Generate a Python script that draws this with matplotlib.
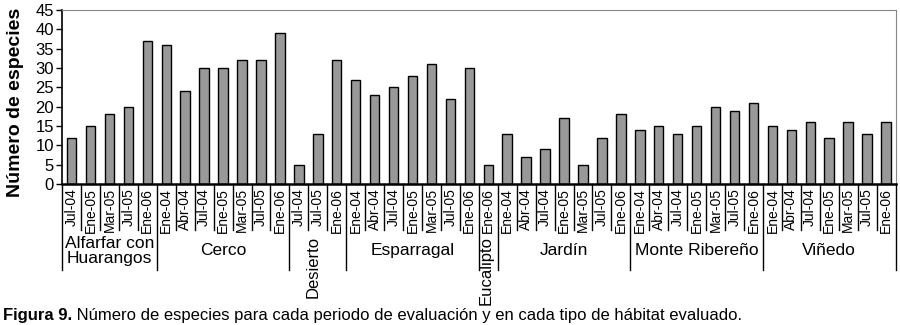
import matplotlib
matplotlib.use("Agg")
import matplotlib.pyplot as plt

plt.rcParams['font.family'] = ['Liberation Sans', 'DejaVu Sans']

# Habitat groups and their sampling periods
groups = ["Alfarfar con\nHuarangos", "Cerco", "Desierto", "Esparragal",
          "Eucalipto", "Jardín", "Monte Ribereño", "Viñedo"]
periods = [
    ["Jul-04", "Ene-05", "Mar-05", "Jul-05", "Ene-06"],
    ["Ene-04", "Abr-04", "Jul-04", "Ene-05", "Mar-05", "Jul-05", "Ene-06"],
    ["Jul-04", "Jul-05", "Ene-06"],
    ["Ene-04", "Abr-04", "Jul-04", "Ene-05", "Mar-05", "Jul-05", "Ene-06"],
    ["Ene-06"],
    ["Ene-04", "Abr-04", "Jul-04", "Ene-05", "Mar-05", "Jul-05", "Ene-06"],
    ["Ene-04", "Abr-04", "Jul-04", "Ene-05", "Mar-05", "Jul-05", "Ene-06"],
    ["Ene-04", "Abr-04", "Jul-04", "Ene-05", "Mar-05", "Jul-05", "Ene-06"],
]
species = [
    [12, 15, 18, 20, 37],
    [36, 24, 30, 30, 32, 32, 39],
    [5, 13, 32],
    [27, 23, 25, 28, 31, 22, 30],
    [5],
    [13, 7, 9, 17, 5, 12, 18],
    [14, 15, 13, 15, 20, 19, 21],
    [15, 14, 16, 12, 16, 13, 16],
]

labels = [p for g in periods for p in g]
values = [v for g in species for v in g]
x = list(range(len(values)))

fig = plt.figure(figsize=(9, 3.25), dpi=100)
ax = fig.add_axes([0.069, 0.434, 0.926, 0.535])

ax.bar(x, values, width=0.5, color="#999999", edgecolor="black", linewidth=1)
ax.set_xlim(-0.5, len(values) - 0.5)
ax.set_ylim(0, 45)
ax.set_yticks(range(0, 46, 5))
ax.tick_params(axis="y", labelsize=12, length=4, width=1, pad=2)
ax.set_xticks(x)
ax.set_xticklabels(labels, rotation=90, fontsize=10)
ax.tick_params(axis="x", length=0, pad=3)

ax.spines["top"].set_color("#888888")
ax.spines["right"].set_color("#888888")
ax.spines["bottom"].set_linewidth(1.8)
ax.spines["left"].set_linewidth(1.2)

ax.set_ylabel("Número de especies", fontsize=14, fontweight="bold")
ax.yaxis.set_label_coords(-0.046, 0.47)

# separators under the axis
trans = ax.get_xaxis_transform()
start = 0
bounds = [0]
for g in periods:
    start += len(g)
    bounds.append(start)
for b in range(len(values) + 1):
    low = -0.494 if b in bounds else -0.264
    ax.plot([b - 0.5, b - 0.5], [0, low], transform=trans, color="black",
            lw=1, clip_on=False)

# group names
for i, name in enumerate(groups):
    a, b = bounds[i], bounds[i + 1]
    c = (a + b - 1) / 2
    if b - a <= 3:
        xpos = c - 0.25 if b - a == 3 else c - 0.1
        ax.text(xpos, -0.3, name, transform=trans, rotation=90,
                ha="center", va="top", fontsize=12)
    else:
        ax.text(c, -0.385, name, transform=trans, ha="center", va="center",
                fontsize=12.5, linespacing=1.0)

# caption
t1 = fig.text(0.003, 0.014, "Figura 9.", fontsize=12, fontweight="bold",
              va="baseline")
fig.canvas.draw()
bb = t1.get_window_extent()
fig.text(bb.x1 / fig.bbox.width, 0.014,
         " Número de especies para cada periodo de evaluación y en cada tipo de hábitat evaluado.",
         fontsize=12, va="baseline")

fig.savefig("out.png", dpi=100)
